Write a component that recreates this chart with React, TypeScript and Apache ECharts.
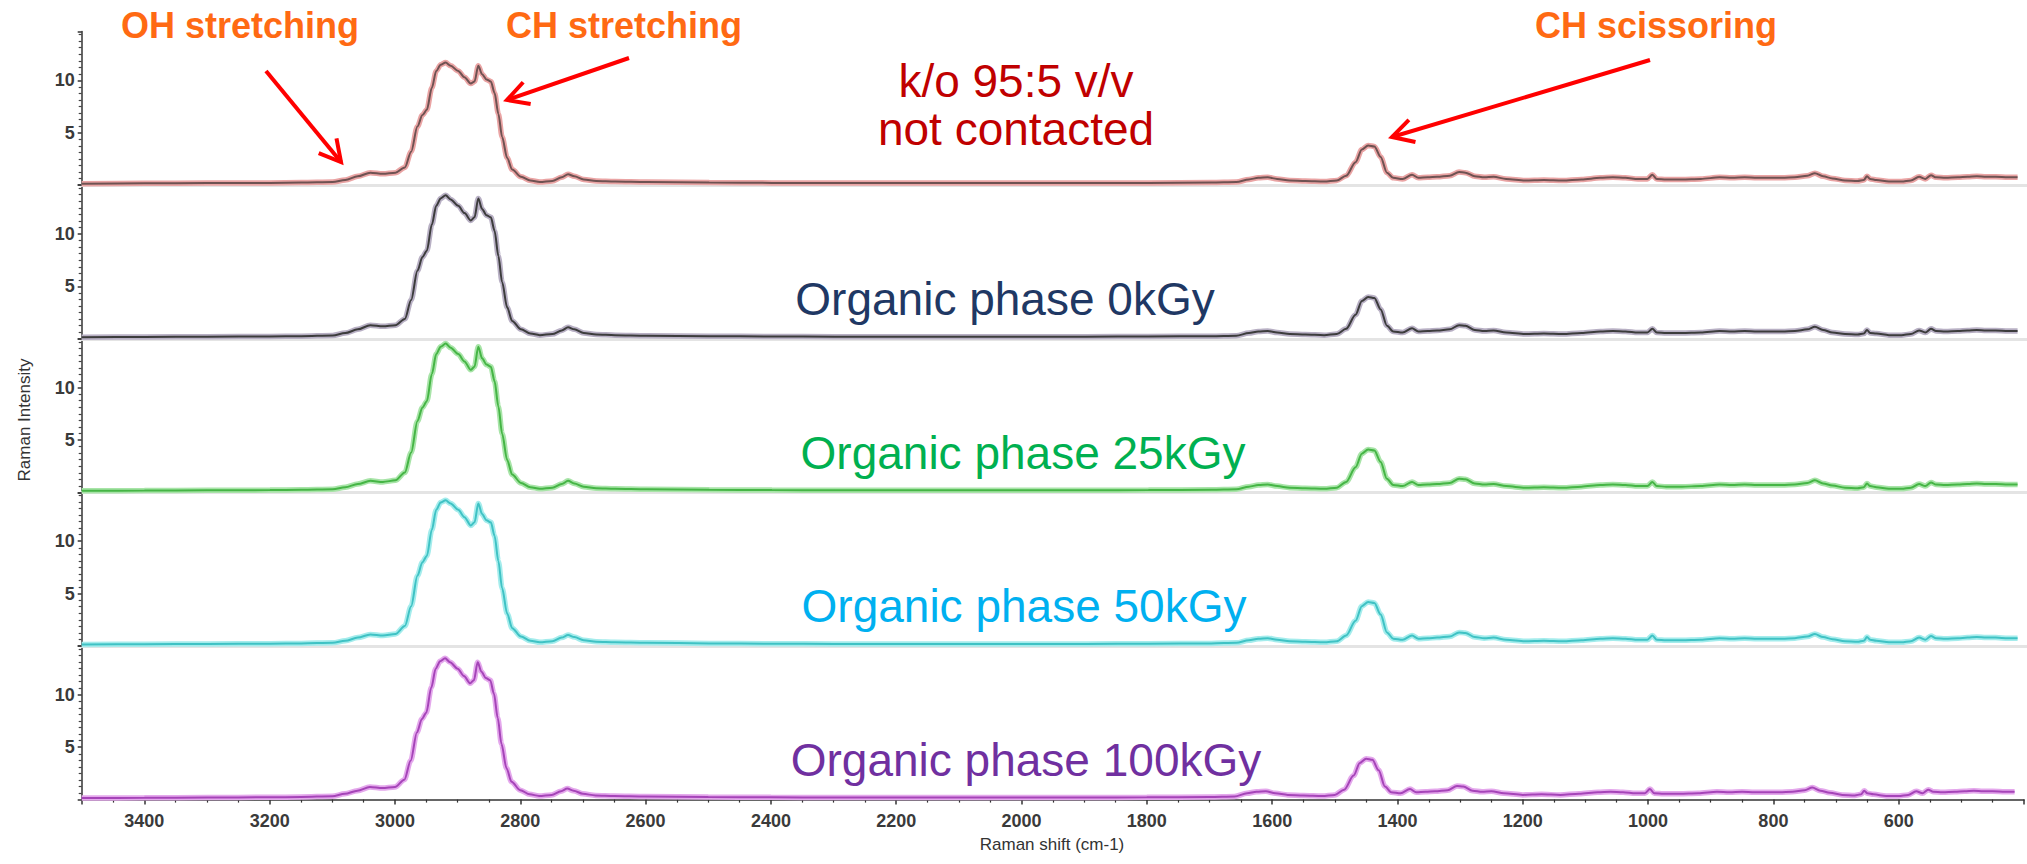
import React, { useEffect, useRef } from "react";
import * as echarts from "echarts";

// Raman shift (cm-1), shared by all spectra
const shifts = [
  3500, 3400, 3300, 3200, 3150, 3100, 3080, 3060, 3040, 3020,
  3000, 2985, 2975, 2965, 2957, 2950, 2942, 2935, 2928, 2920,
  2912, 2900, 2890, 2880, 2874, 2868, 2862, 2855, 2848, 2842,
  2836, 2830, 2822, 2814, 2800, 2785, 2770, 2750, 2735, 2725,
  2715, 2700, 2680, 2650, 2600, 2500, 2400, 2300, 2200, 2100,
  2000, 1900, 1800, 1700, 1660, 1640, 1625, 1610, 1595, 1575,
  1550, 1520, 1500, 1485, 1470, 1460, 1450, 1440, 1430, 1420,
  1410, 1395, 1380, 1370, 1355, 1340, 1320, 1305, 1295, 1280,
  1265, 1250, 1230, 1200, 1170, 1140, 1110, 1080, 1060, 1040,
  1020, 1005, 997, 990, 975, 950, 920, 890, 870, 850,
  830, 810, 790, 770, 750, 738, 725, 710, 690, 670,
  660, 655, 650, 640, 620, 600, 585, 572, 562, 553,
  545, 530, 510, 495, 480, 465, 450, 430, 415,
];

const notContacted = [
  0.15, 0.18, 0.2, 0.22, 0.25, 0.3, 0.5, 0.85, 1.2, 1.1,
  1.2, 1.7, 3.2, 5.6, 6.7, 7.2, 9.3, 10.9, 11.5, 11.7,
  11.4, 10.9, 10.3, 9.7, 9.9, 11.4, 10.6, 10.1, 9.9, 8.8,
  6.8, 4.6, 2.6, 1.5, 0.8, 0.45, 0.3, 0.4, 0.75, 1.05,
  0.85, 0.55, 0.4, 0.35, 0.3, 0.25, 0.22, 0.22, 0.2, 0.2,
  0.2, 0.2, 0.22, 0.25, 0.3, 0.55, 0.7, 0.75, 0.6, 0.45,
  0.4, 0.35, 0.45, 0.9, 2.2, 3.4, 3.8, 3.7, 2.7, 1.2,
  0.7, 0.6, 1.0, 0.7, 0.75, 0.8, 0.9, 1.25, 1.2, 0.85,
  0.75, 0.8, 0.6, 0.45, 0.5, 0.45, 0.55, 0.7, 0.75, 0.7,
  0.6, 0.6, 1.0, 0.6, 0.55, 0.55, 0.6, 0.75, 0.7, 0.75,
  0.7, 0.7, 0.7, 0.75, 0.9, 1.15, 0.85, 0.65, 0.45, 0.4,
  0.5, 0.85, 0.6, 0.5, 0.35, 0.35, 0.45, 0.8, 0.6, 0.95,
  0.75, 0.7, 0.75, 0.8, 0.85, 0.8, 0.8, 0.75, 0.75,
];

const phase0kGy = [
  0.15, 0.17, 0.2, 0.22, 0.25, 0.32, 0.55, 0.9, 1.3, 1.2,
  1.3, 1.9, 3.7, 6.5, 7.8, 8.4, 10.9, 12.7, 13.4, 13.7,
  13.3, 12.7, 12.0, 11.3, 11.6, 13.4, 12.4, 11.8, 11.6, 10.3,
  7.9, 5.4, 3.0, 1.7, 0.9, 0.5, 0.35, 0.45, 0.8, 1.1,
  0.9, 0.55, 0.4, 0.35, 0.3, 0.25, 0.22, 0.2, 0.2, 0.2,
  0.2, 0.2, 0.22, 0.25, 0.3, 0.55, 0.7, 0.75, 0.6, 0.45,
  0.4, 0.35, 0.45, 0.95, 2.3, 3.6, 4.0, 3.9, 2.8, 1.25,
  0.7, 0.6, 1.0, 0.7, 0.75, 0.8, 0.9, 1.3, 1.25, 0.85,
  0.75, 0.8, 0.6, 0.45, 0.5, 0.45, 0.55, 0.7, 0.75, 0.7,
  0.6, 0.6, 0.95, 0.6, 0.55, 0.55, 0.6, 0.75, 0.7, 0.75,
  0.7, 0.7, 0.7, 0.75, 0.9, 1.15, 0.85, 0.6, 0.45, 0.4,
  0.5, 0.85, 0.55, 0.5, 0.35, 0.35, 0.45, 0.8, 0.6, 0.95,
  0.75, 0.7, 0.75, 0.8, 0.85, 0.8, 0.8, 0.75, 0.75,
];

const phase25kGy = [
  0.15, 0.17, 0.2, 0.22, 0.25, 0.3, 0.5, 0.8, 1.1, 1.0,
  1.15, 1.9, 3.8, 6.8, 8.1, 8.7, 11.3, 13.2, 13.9, 14.2,
  13.8, 13.2, 12.5, 11.7, 12.0, 13.9, 12.8, 12.2, 12.0, 10.6,
  8.2, 5.6, 3.1, 1.7, 0.9, 0.5, 0.35, 0.45, 0.8, 1.1,
  0.85, 0.55, 0.4, 0.35, 0.3, 0.25, 0.22, 0.2, 0.2, 0.2,
  0.2, 0.2, 0.22, 0.25, 0.3, 0.55, 0.7, 0.75, 0.6, 0.45,
  0.4, 0.35, 0.45, 1.0, 2.4, 3.7, 4.1, 4.0, 2.9, 1.3,
  0.7, 0.6, 1.0, 0.7, 0.75, 0.8, 0.9, 1.3, 1.25, 0.85,
  0.75, 0.8, 0.6, 0.45, 0.5, 0.45, 0.55, 0.7, 0.75, 0.7,
  0.6, 0.6, 1.0, 0.6, 0.55, 0.55, 0.6, 0.75, 0.7, 0.75,
  0.7, 0.7, 0.7, 0.75, 0.9, 1.15, 0.85, 0.65, 0.45, 0.4,
  0.5, 0.85, 0.6, 0.5, 0.35, 0.35, 0.45, 0.8, 0.6, 0.95,
  0.75, 0.7, 0.75, 0.8, 0.85, 0.8, 0.8, 0.75, 0.75,
];

const phase50kGy = [
  0.15, 0.17, 0.2, 0.22, 0.25, 0.3, 0.5, 0.8, 1.1, 1.0,
  1.15, 1.9, 3.8, 6.7, 8.0, 8.6, 11.1, 13.0, 13.7, 13.9,
  13.6, 13.0, 12.3, 11.5, 11.8, 13.6, 12.6, 12.0, 11.8, 10.5,
  8.1, 5.5, 3.1, 1.7, 0.9, 0.5, 0.35, 0.45, 0.8, 1.05,
  0.85, 0.55, 0.4, 0.35, 0.3, 0.25, 0.22, 0.2, 0.2, 0.2,
  0.2, 0.2, 0.22, 0.25, 0.3, 0.55, 0.7, 0.75, 0.6, 0.45,
  0.4, 0.35, 0.45, 1.0, 2.4, 3.8, 4.2, 4.1, 3.0, 1.3,
  0.7, 0.6, 1.0, 0.7, 0.75, 0.8, 0.9, 1.3, 1.25, 0.85,
  0.75, 0.8, 0.6, 0.45, 0.5, 0.45, 0.55, 0.7, 0.75, 0.7,
  0.6, 0.6, 1.0, 0.6, 0.55, 0.55, 0.6, 0.75, 0.7, 0.75,
  0.7, 0.7, 0.7, 0.75, 0.9, 1.15, 0.85, 0.65, 0.45, 0.4,
  0.5, 0.85, 0.6, 0.5, 0.35, 0.35, 0.45, 0.8, 0.6, 0.95,
  0.75, 0.7, 0.75, 0.8, 0.85, 0.8, 0.8, 0.75, 0.75,
];

const phase100kGy = [
  0.15, 0.17, 0.2, 0.22, 0.25, 0.32, 0.55, 0.85, 1.2, 1.1,
  1.2, 1.9, 3.7, 6.4, 7.7, 8.3, 10.7, 12.5, 13.2, 13.5,
  13.1, 12.5, 11.8, 11.1, 11.4, 13.1, 12.2, 11.6, 11.4, 10.1,
  7.8, 5.3, 3.0, 1.7, 0.9, 0.5, 0.35, 0.45, 0.8, 1.05,
  0.85, 0.55, 0.4, 0.35, 0.3, 0.25, 0.22, 0.2, 0.2, 0.2,
  0.2, 0.2, 0.22, 0.25, 0.3, 0.6, 0.75, 0.8, 0.6, 0.45,
  0.4, 0.35, 0.45, 0.95, 2.3, 3.5, 3.9, 3.8, 2.8, 1.25,
  0.7, 0.6, 1.0, 0.7, 0.75, 0.8, 0.9, 1.3, 1.25, 0.85,
  0.75, 0.8, 0.6, 0.45, 0.5, 0.45, 0.55, 0.7, 0.75, 0.7,
  0.6, 0.6, 1.0, 0.6, 0.55, 0.55, 0.6, 0.75, 0.7, 0.75,
  0.7, 0.7, 0.7, 0.75, 0.9, 1.15, 0.85, 0.65, 0.45, 0.4,
  0.5, 0.85, 0.6, 0.5, 0.35, 0.35, 0.45, 0.8, 0.6, 0.95,
  0.75, 0.7, 0.75, 0.8, 0.85, 0.8, 0.8, 0.75, 0.75,
];

const spectra = [notContacted, phase0kGy, phase25kGy, phase50kGy, phase100kGy];
const seriesNames = ["k/o 95:5 v/v not contacted", "0kGy", "25kGy", "50kGy", "100kGy"];
const lineColors = ["#6e5252", "#3c3c3c", "#45b545", "#3fc2c4", "#a544b8"];
const haloColors = ["#eaa4a4", "#b8b0c4", "#a8e4a8", "#a4ecec", "#e4a8ec"];
const yLabelValues = [5, 10];
const xAxisTitle = "Raman shift (cm-1)";
const yAxisTitle = "Raman Intensity";

const sampleLabels = [
  { text: "k/o 95:5 v/v\nnot contacted", color: "#C00000", x: 1016, y: 105 },
  { text: "Organic phase 0kGy", color: "#1F3864", x: 1005, y: 299 },
  { text: "Organic phase 25kGy", color: "#00B050", x: 1023, y: 453 },
  { text: "Organic phase 50kGy", color: "#00B0F0", x: 1024, y: 606 },
  { text: "Organic phase 100kGy", color: "#7030A0", x: 1026, y: 760 },
];

const bandLabels = [
  { text: "OH stretching", x: 240, y: 25, from: [266, 71], to: [341, 162] },
  { text: "CH stretching", x: 624, y: 25, from: [629, 58], to: [507, 100] },
  { text: "CH scissoring", x: 1656, y: 25, from: [1650, 60], to: [1392, 137] },
];

function arrow(from: number[], to: number[]) {
  const [x1, y1] = from;
  const [x2, y2] = to;
  const L = Math.hypot(x2 - x1, y2 - y1);
  const bx = (x1 - x2) / L;
  const by = (y1 - y2) / L;
  const a = 0.5;
  const hl = 24;
  const c = Math.cos(a);
  const s = Math.sin(a);
  const p1 = [x2 + hl * (bx * c - by * s), y2 + hl * (bx * s + by * c)];
  const p2 = [x2 + hl * (bx * c + by * s), y2 + hl * (-bx * s + by * c)];
  return [
    { type: "line", shape: { x1, y1, x2, y2 }, style: { stroke: "#FF0000", lineWidth: 4 } },
    {
      type: "polyline",
      shape: { points: [p1, [x2, y2], p2] },
      style: { stroke: "#FF0000", lineWidth: 4, fill: null, lineJoin: "miter" },
    },
  ];
}

export default function App() {
  const ref = useRef<HTMLDivElement>(null);
  useEffect(() => {
    if (!ref.current) return;
    const chart = echarts.init(ref.current, null, { renderer: "svg" });
    const panelH = 153.6;
    const zero0 = 185.2;
    const left = 81.7;
    const width = 1949.7;
    const yMax = 14.66;
    const grids: any[] = [];
    const xAxes: any[] = [];
    const yAxes: any[] = [];
    const series: any[] = [];
    for (let k = 0; k < 5; k++) {
      const zero = zero0 + k * panelH;
      grids.push({ left, width, top: zero - panelH, height: panelH });
      const isBottom = k === 4;
      xAxes.push({
        gridIndex: k,
        type: "value",
        min: 400,
        max: 3500,
        interval: 200,
        inverse: true,
        offset: 3,
        axisLine: {
          show: true,
          lineStyle: isBottom ? { color: "#333", width: 1.5 } : { color: "#e4e4e4", width: 3 },
        },
        axisTick: { show: isBottom, length: 5, lineStyle: { color: "#333", width: 1.5 } },
        minorTick: { show: isBottom, splitNumber: 4, length: 3, lineStyle: { color: "#333", width: 1.2 } },
        axisLabel: {
          show: isBottom,
          fontSize: 18,
          fontWeight: "bold",
          color: "#3a3a3a",
          fontFamily: "Liberation Sans, Arial, sans-serif",
          margin: 9,
          formatter: (v: number) => (v % 200 === 0 && v >= 600 && v <= 3400 ? String(v) : ""),
        },
        splitLine: { show: false },
        minorSplitLine: { show: false },
      });
      yAxes.push({
        gridIndex: k,
        type: "value",
        min: 0,
        max: yMax,
        interval: 5,
        axisLine: { show: true, lineStyle: { color: "#333", width: 1.5 } },
        axisTick: { show: true, length: 4, lineStyle: { color: "#333", width: 1.5 } },
        minorTick: { show: true, splitNumber: 8, length: 3, lineStyle: { color: "#444", width: 1.2 } },
        axisLabel: {
          fontSize: 18,
          fontWeight: "bold",
          color: "#3a3a3a",
          fontFamily: "Liberation Sans, Arial, sans-serif",
          margin: 7,
          formatter: (v: number) => (yLabelValues.includes(v) ? String(v) : ""),
        },
        splitLine: { show: false },
      });
      const data = shifts.map((s, i) => [s, spectra[k][i]]);
      series.push({
        name: seriesNames[k] + " halo",
        type: "line",
        xAxisIndex: k,
        yAxisIndex: k,
        data,
        showSymbol: false,
        smooth: 0.3,
        smoothMonotone: "x",
        clip: false,
        silent: true,
        lineStyle: { color: haloColors[k], width: 5.5 },
        z: 2,
      });
      series.push({
        name: seriesNames[k],
        type: "line",
        xAxisIndex: k,
        yAxisIndex: k,
        data,
        showSymbol: false,
        smooth: 0.3,
        smoothMonotone: "x",
        clip: false,
        lineStyle: { color: lineColors[k], width: 2 },
        z: 3,
      });
    }

    const graphics: any[] = [];
    sampleLabels.forEach((lab) => {
      graphics.push({
        type: "text",
        x: lab.x,
        y: lab.y,
        style: {
          text: lab.text,
          fill: lab.color,
          font: "46px 'Liberation Sans', Arial, sans-serif",
          lineHeight: 48,
          textAlign: "center",
          textVerticalAlign: "middle",
        },
        z: 10,
      });
    });
    bandLabels.forEach((b) => {
      graphics.push({
        type: "text",
        x: b.x,
        y: b.y,
        style: {
          text: b.text,
          fill: "#FF6A13",
          font: "bold 36px 'Liberation Sans', Arial, sans-serif",
          textAlign: "center",
          textVerticalAlign: "middle",
        },
        z: 10,
      });
      graphics.push(...arrow(b.from, b.to).map((e) => ({ ...e, z: 11 })));
    });
    graphics.push({
      type: "text",
      x: 1052,
      y: 844,
      style: {
        text: xAxisTitle,
        fill: "#333",
        font: "17px 'Liberation Sans', Arial, sans-serif",
        textAlign: "center",
        textVerticalAlign: "middle",
      },
    });
    graphics.push({
      type: "text",
      x: 24,
      y: 420,
      rotation: Math.PI / 2,
      style: {
        text: yAxisTitle,
        fill: "#333",
        font: "17px 'Liberation Sans', Arial, sans-serif",
        textAlign: "center",
        textVerticalAlign: "middle",
      },
    });

    chart.setOption({
      animation: false,
      backgroundColor: "#ffffff",
      grid: grids,
      xAxis: xAxes,
      yAxis: yAxes,
      series,
      graphic: graphics,
    });
    return () => chart.dispose();
  }, []);
  return (
    <div
      ref={ref}
      style={{ position: "absolute", left: 0, top: 0, width: 2027, height: 864 }}
    />
  );
}
